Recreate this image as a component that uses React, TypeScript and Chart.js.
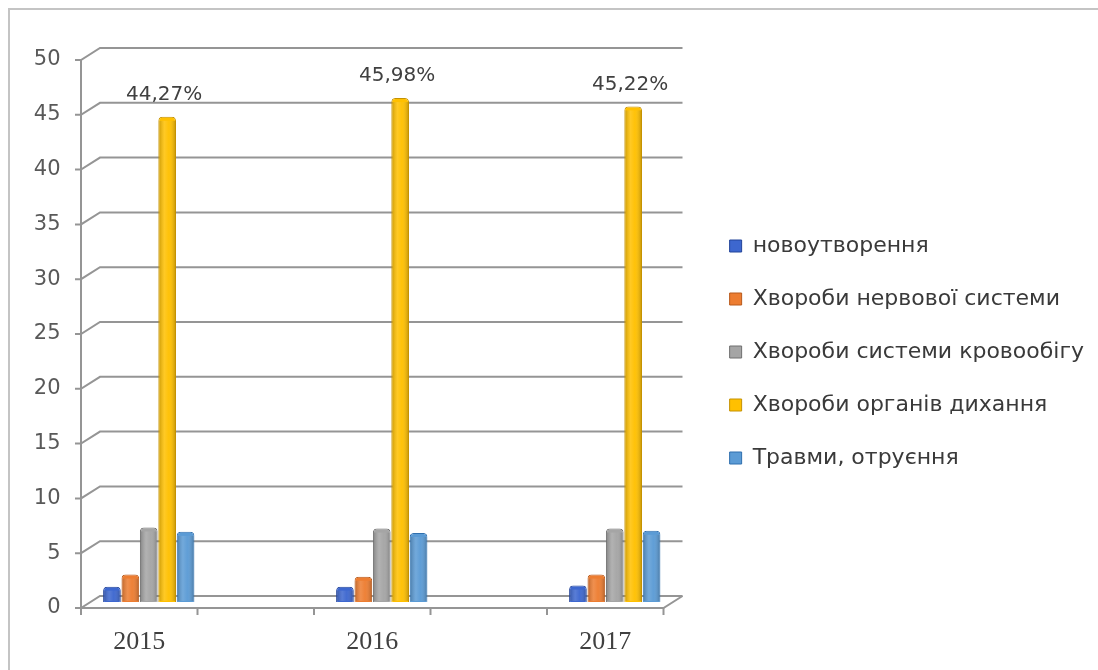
import React, { useEffect, useRef } from "react";
import { Chart, registerables } from "chart.js";

Chart.register(...registerables);

// ---- data ----
const years = ["2015", "2016", "2017"];
const seriesNames = [
  "новоутворення",
  "Хвороби нервової системи",
  "Хвороби системи кровообігу",
  "Хвороби органів дихання",
  "Травми, отруєння",
];
const neoplasms = [1.4, 1.4, 1.5];
const nervous = [2.5, 2.3, 2.5];
const circulatory = [6.8, 6.7, 6.7];
const respiratory = [44.27, 45.98, 45.22];
const injuries = [6.4, 6.3, 6.5];
const respiratoryLabels = ["44,27%", "45,98%", "45,22%"];
const yMin = 0;
const yMax = 50;
const yStep = 5;

// ---- styles ----
const fills = ["#3d67cf", "#ed7d31", "#a5a5a5", "#ffc000", "#5b9bd5"];
const edges = ["#23449a", "#b85a1c", "#6f6f6f", "#c59200", "#2f6fae"];
const DX = 19; // depth offset (back wall vs front)
const DY = 12;
const X_START = -0.25;
const X_END = 2.25;
const GRID = "#959595";

const seriesValues = [neoplasms, nervous, circulatory, respiratory, injuries];

const depthPlugin = {
  id: "depth3d",
  beforeDraw(chart: any) {
    const { ctx } = chart;
    ctx.save();
    ctx.strokeStyle = "#c4c4c4";
    ctx.lineWidth = 2;
    ctx.beginPath();
    ctx.moveTo(9, 670);
    ctx.lineTo(9, 9);
    ctx.lineTo(1098, 9);
    ctx.stroke();
    ctx.restore();
  },
  beforeDatasetsDraw(chart: any) {
    const { ctx, scales } = chart;
    const x = scales.x;
    const y = scales.y;
    const hx = DX / 2;
    const hy = DY / 2;
    const fl = x.getPixelForValue(X_START) - hx;
    const fr = x.getPixelForValue(X_END) - hx;
    ctx.save();
    ctx.strokeStyle = GRID;
    ctx.lineWidth = 2;
    ctx.lineCap = "butt";
    for (let v = yMin; v <= yMax; v += yStep) {
      const yb = y.getPixelForValue(v) - hy;
      ctx.beginPath();
      ctx.moveTo(fl - 6, yb + DY);
      ctx.lineTo(fl, yb + DY);
      ctx.lineTo(fl + DX, yb);
      ctx.lineTo(fr + DX, yb);
      ctx.stroke();
    }
    // front vertical axis
    ctx.beginPath();
    ctx.moveTo(fl, y.getPixelForValue(yMax) + hy);
    ctx.lineTo(fl, y.getPixelForValue(yMin) + hy + 1);
    ctx.stroke();
    // floor front edge and right side
    const y0 = y.getPixelForValue(yMin) + hy;
    ctx.beginPath();
    ctx.moveTo(fl, y0);
    ctx.lineTo(fr, y0);
    ctx.lineTo(fr + DX, y0 - DY);
    ctx.stroke();
    // x tick marks at half-category boundaries
    for (let t = X_START; t <= X_END + 1e-6; t += 0.5) {
      const px = x.getPixelForValue(t) - hx;
      ctx.beginPath();
      ctx.moveTo(px, y0);
      ctx.lineTo(px, y0 + 7);
      ctx.stroke();
    }
    ctx.restore();
  },
  afterDatasetsDraw(chart: any) {
    const { ctx } = chart;
    ctx.save();
    chart.data.datasets.forEach((_: any, di: number) => {
      const meta = chart.getDatasetMeta(di);
      meta.data.forEach((bar: any) => {
        const w = bar.width;
        const left = bar.x - w / 2;
        const top = bar.y;
        const h = bar.base - bar.y;
        if (h <= 2) return;
        const g = ctx.createLinearGradient(left, 0, left + w, 0);
        g.addColorStop(0, "rgba(0,0,0,0.22)");
        g.addColorStop(0.35, "rgba(255,255,255,0.14)");
        g.addColorStop(0.6, "rgba(255,255,255,0.03)");
        g.addColorStop(1, "rgba(0,0,0,0.25)");
        ctx.fillStyle = g;
        ctx.fillRect(left + 1, top + 4, w - 2, h - 5);
      });
    });
    // value labels above the respiratory bars
    const meta = chart.getDatasetMeta(3);
    ctx.fillStyle = "#404040";
    ctx.font = "20px 'DejaVu Sans'";
    ctx.textAlign = "center";
    ctx.textBaseline = "middle";
    meta.data.forEach((bar: any, i: number) => {
      ctx.fillText(respiratoryLabels[i], bar.x - 3, bar.y - 22);
    });
    ctx.restore();
  },
};

export default function App() {
  const ref = useRef<HTMLCanvasElement | null>(null);

  useEffect(() => {
    if (!ref.current) return;
    const chart = new Chart(ref.current, {
      type: "bar",
      data: {
        datasets: seriesNames.map((name, si) => ({
          label: name,
          data: years.map((_, i) => ({ x: i, y: seriesValues[si][i] })),
          backgroundColor: fills[si],
          borderColor: edges[si],
          borderWidth: 1,
          borderRadius: { topLeft: 4, topRight: 4, bottomLeft: 0, bottomRight: 0 },
          borderSkipped: "bottom",
          categoryPercentage: 0.395,
          barPercentage: 0.96,
        })),
      },
      options: {
        animation: false,
        responsive: false,
        maintainAspectRatio: false,
        layout: { padding: { left: 30.5, top: 54, bottom: 20, right: 4 } },
        scales: {
          x: {
            type: "linear",
            min: X_START,
            max: 2.36,
            offset: false,
            grid: { display: false, drawTicks: false },
            border: { display: false },
            afterBuildTicks: (s: any) => {
              s.ticks = years.map((_, i) => ({ value: i }));
            },
            afterFit: (s: any) => {
              s.height = 48;
            },
            ticks: {
              autoSkip: false,
              maxRotation: 0,
              padding: 25,
              labelOffset: -DX / 2,
              color: "#404040",
              font: { family: "'Liberation Serif'", size: 26 },
              callback: (_v: any, idx: number) => years[idx],
            },
          },
          y: {
            min: yMin,
            max: yMax,
            grid: { display: false, drawTicks: false },
            border: { display: false },
            afterFit: (s: any) => {
              s.width = 60;
            },
            ticks: {
              stepSize: yStep,
              padding: 30,
              labelOffset: DY / 2,
              color: "#595959",
              font: { family: "'DejaVu Sans'", size: 21 },
            },
          },
        },
        plugins: {
          legend: {
            position: "right",
            align: "center",
            maxWidth: 460,
            labels: {
              boxWidth: 12,
              boxHeight: 12,
              padding: 31,
              color: "#3a3a3a",
              font: { family: "'DejaVu Sans'", size: 22 },
            },
          },
          tooltip: { enabled: false },
        },
      },
      plugins: [depthPlugin],
    } as any);
    return () => chart.destroy();
  }, []);

  return (
    <div style={{ position: "absolute", left: 0, top: 0, width: 1098, height: 670, background: "#fff" }}>
      <canvas ref={ref} width={1098} height={670} style={{ display: "block", width: 1098, height: 670 }} />
    </div>
  );
}
